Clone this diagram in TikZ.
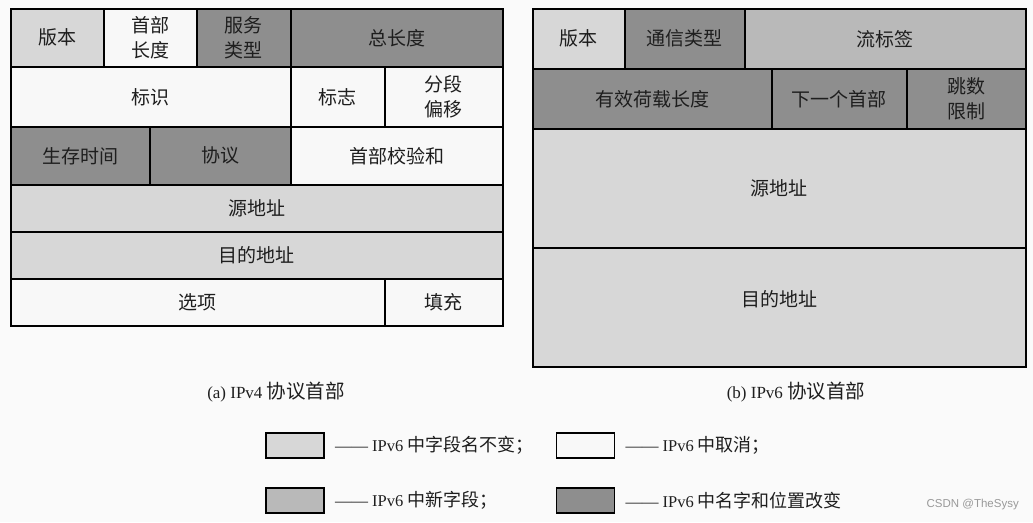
\documentclass[tikz,border=0pt]{standalone}
\usepackage{fontspec}
\setmainfont{Liberation Serif}
\newfontfamily\cjk{Noto Sans CJK SC}
\newfontfamily\marksans{Liberation Sans}
\usepackage{xcolor}
\usetikzlibrary{positioning}
\definecolor{pagebg}{HTML}{FAFAFA}
\definecolor{keepgray}{HTML}{D7D7D7}
\definecolor{dropwhite}{HTML}{F8F8F8}
\definecolor{newgray}{HTML}{B9B9B9}
\definecolor{movegray}{HTML}{8E8E8E}
\definecolor{inkmain}{HTML}{1E1E1E}
\newcommand{\zhpart}[2]{{\cjk\fontsize{#1}{#1}\selectfont #2}}
\tikzset{
  field/.style={draw=black, line width=1.6pt, fill=#1, inner sep=0pt,
    align=center, anchor=north west, text=inkmain,
    font=\cjk\fontsize{19}{25}\selectfont},
  keybox/.style={draw=black, line width=1.6pt, fill=#1, inner sep=0pt,
    minimum width=58pt, minimum height=25pt},
  keytext/.style={inner sep=0pt, anchor=west, text=inkmain,
    font=\fontsize{16.5}{18}\selectfont},
  caption/.style={text=inkmain, font=\fontsize{17}{19}\selectfont}
}

\begin{document}
\begin{tikzpicture}[x=1pt,y=-1pt]
  \fill[pagebg] (0,0) rectangle (1033,522);
  \useasboundingbox (0,0) rectangle (1033,522);
  % IPv4 header
  \foreach \n/\xa/\ya/\xb/\yb/\c/\t in {
      vfver/10/8/103/66/keepgray/版本,
      vfhlen/103/8/196/66/dropwhite/{首部\\长度},
      vftos/196/8/290/66/movegray/{服务\\类型},
      vftlen/290/8/502/66/movegray/总长度,
      vfid/10/66/290/126/dropwhite/标识,
      vfflag/290/66/384/126/dropwhite/标志,
      vffrag/384/66/502/126/dropwhite/{分段\\偏移},
      vfttl/10/126/149/184/movegray/生存时间,
      vfproto/149/126/290/184/movegray/协议,
      vfsum/290/126/502/184/dropwhite/首部校验和,
      vfsrc/10/184/502/231/keepgray/源地址,
      vfdst/10/231/502/278/keepgray/目的地址,
      vfopt/10/278/384/325/dropwhite/选项,
      vfpad/384/278/502/325/dropwhite/填充}
    \node[field=\c, minimum width={(\xb-\xa)*1pt},
      minimum height={(\yb-\ya)*1pt}] (\n) at (\xa,\ya) {\t};
  % IPv6 header
  \foreach \n/\xa/\ya/\xb/\yb/\c/\t in {
      vsver/532/8/624/68/keepgray/版本,
      vsclass/624/8/744/68/movegray/通信类型,
      vsflow/744/8/1025/68/newgray/流标签,
      vsplen/532/68/771/128/movegray/有效荷载长度,
      vsnext/771/68/906/128/movegray/下一个首部,
      vshop/906/68/1025/128/movegray/{跳数\\限制},
      vssrc/532/128/1025/247/keepgray/源地址,
      vsdst/532/247/1025/366/keepgray/{目的地址\\[-7pt]}}
    \node[field=\c, minimum width={(\xb-\xa)*1pt},
      minimum height={(\yb-\ya)*1pt}] (\n) at (\xa,\ya) {\t};
  % captions
  \node[caption] (capfour) at (276,392) {(a) IPv4 \zhpart{19.5}{协议首部}};
  \node[caption] (capsix) at (796,392) {(b) IPv6 \zhpart{19.5}{协议首部}};
  % legend
  \node[keybox=keepgray] (keykeep) at (295,445.5) {};
  \node[keytext, right=10pt of keykeep] (keykeeptext)
    {—— IPv6 \zhpart{18}{中字段名不变；}};
  \node[keybox=dropwhite] (keydrop) at (585.5,445.5) {};
  \node[keytext, right=10pt of keydrop] (keydroptext)
    {—— IPv6 \zhpart{18}{中取消；}};
  \node[keybox=newgray] (keynew) at (295,500.5) {};
  \node[keytext, right=10pt of keynew] (keynewtext)
    {—— IPv6 \zhpart{18}{中新字段；}};
  \node[keybox=movegray] (keymove) at (585.5,500.5) {};
  \node[keytext, right=10pt of keymove] (keymovetext)
    {—— IPv6 \zhpart{18}{中名字和位置改变}};
  \node[anchor=east, inner sep=0pt, text=gray!80,
    font=\marksans\fontsize{11.5}{12}\selectfont] (mark) at (1019,505)
    {CSDN @TheSysy};
\end{tikzpicture}
\end{document}
